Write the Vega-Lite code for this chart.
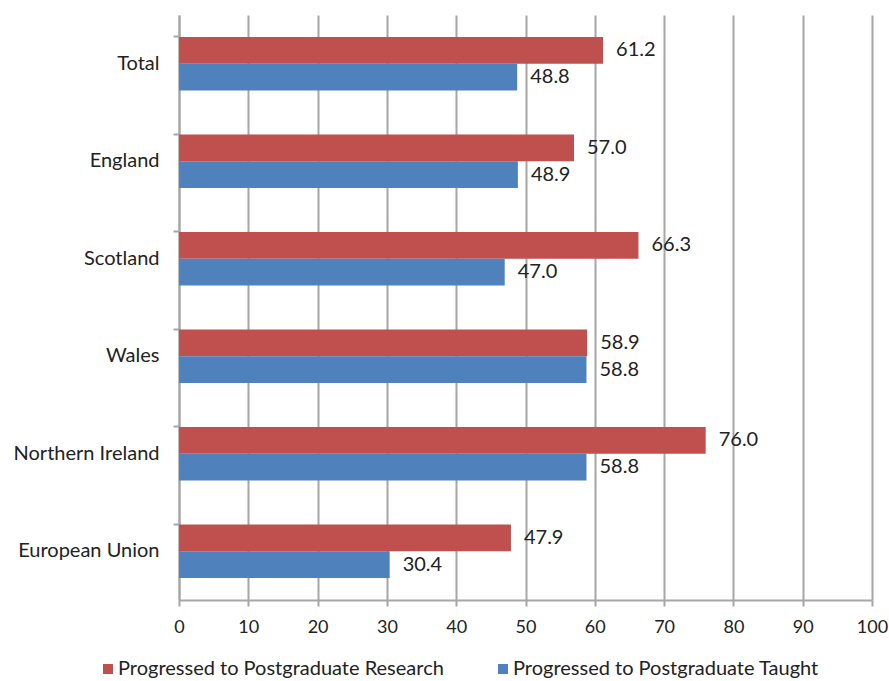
{
  "$schema": "https://vega.github.io/schema/vega-lite/v6.json",
  "autosize": "none",
  "width": 693,
  "height": 585,
  "padding": {"left": 179, "top": 15, "right": 17, "bottom": 81},
  "background": "white",
  "config": {
    "font": "Lato",
    "view": {"stroke": null}
  },
  "data": {
    "values": [
      {"region": "Total", "series": "Progressed to Postgraduate Research", "value": 61.2},
      {"region": "Total", "series": "Progressed to Postgraduate Taught", "value": 48.8},
      {"region": "England", "series": "Progressed to Postgraduate Research", "value": 57.0},
      {"region": "England", "series": "Progressed to Postgraduate Taught", "value": 48.9},
      {"region": "Scotland", "series": "Progressed to Postgraduate Research", "value": 66.3},
      {"region": "Scotland", "series": "Progressed to Postgraduate Taught", "value": 47.0},
      {"region": "Wales", "series": "Progressed to Postgraduate Research", "value": 58.9},
      {"region": "Wales", "series": "Progressed to Postgraduate Taught", "value": 58.8},
      {"region": "Northern Ireland", "series": "Progressed to Postgraduate Research", "value": 76.0},
      {"region": "Northern Ireland", "series": "Progressed to Postgraduate Taught", "value": 58.8},
      {"region": "European Union", "series": "Progressed to Postgraduate Research", "value": 47.9},
      {"region": "European Union", "series": "Progressed to Postgraduate Taught", "value": 30.4}
    ]
  },
  "encoding": {
    "y": {
      "field": "region",
      "type": "nominal",
      "sort": ["Total", "England", "Scotland", "Wales", "Northern Ireland", "European Union"],
      "scale": {"paddingInner": 0.45, "paddingOuter": 0.225},
      "axis": {
        "title": null,
        "bandPosition": 0,
        "domainColor": "#a6a6a6",
        "domainWidth": 2,
        "tickColor": "#a6a6a6",
        "tickWidth": 2,
        "tickSize": 6,
        "labelPadding": 14,
        "labelFontSize": 20,
        "labelColor": "#222222",
        "grid": false
      }
    },
    "x": {
      "field": "value",
      "type": "quantitative",
      "scale": {"domain": [0, 100], "nice": false},
      "axis": {
        "title": null,
        "values": [0, 10, 20, 30, 40, 50, 60, 70, 80, 90, 100],
        "grid": true,
        "gridColor": "#a6a6a6",
        "gridWidth": 2,
        "domainColor": "#a6a6a6",
        "domainWidth": 2,
        "tickColor": "#a6a6a6",
        "tickWidth": 2,
        "tickSize": 6,
        "labelPadding": 12,
        "labelFontSize": 18,
        "labelColor": "#222222",
        "labelFlush": false
      }
    },
    "yOffset": {
      "field": "series",
      "type": "nominal",
      "sort": ["Progressed to Postgraduate Research", "Progressed to Postgraduate Taught"]
    }
  },
  "layer": [
    {
      "mark": {"type": "bar"},
      "encoding": {
        "color": {
          "field": "series",
          "type": "nominal",
          "scale": {
            "domain": ["Progressed to Postgraduate Research", "Progressed to Postgraduate Taught"],
            "range": ["#C0504D", "#4F81BD"]
          },
          "legend": {
            "title": null,
            "orient": "none",
            "legendX": -81,
            "legendY": 644,
            "direction": "horizontal",
            "symbolType": "square",
            "symbolSize": 100,
            "symbolStrokeWidth": 0,
            "labelFontSize": 20,
            "labelColor": "#222222",
            "labelLimit": 0,
            "columnPadding": 49,
            "labelOffset": 0
          }
        }
      }
    },
    {
      "mark": {"type": "text", "align": "left", "baseline": "middle", "dx": 13, "fontSize": 20, "color": "#222222"},
      "encoding": {
        "text": {"field": "value", "type": "quantitative", "format": ".1f"}
      }
    }
  ]
}
